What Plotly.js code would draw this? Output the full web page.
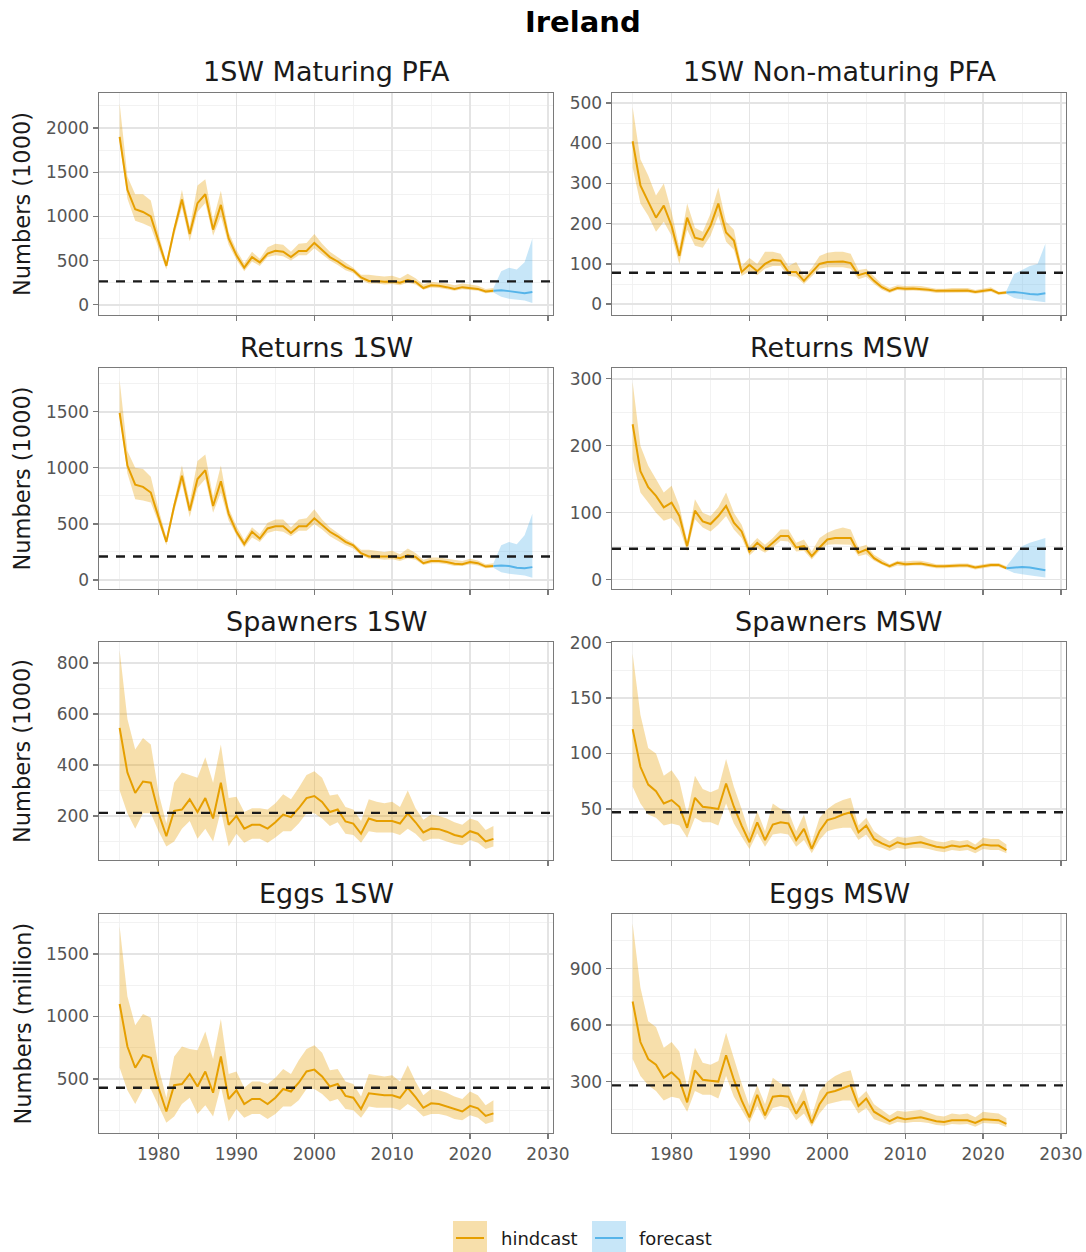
<!DOCTYPE html>
<html>
<head>
<meta charset="utf-8">
<script src="https://cdn.plot.ly/plotly-3.0.1.min.js"></script>
<style>html,body{margin:0;padding:0;background:#fff;}#chart{width:1086px;height:1252px;}</style>
</head>
<body>
<div id="chart"></div>
<script>
// ---------- DATA ----------
const years = [1975,1976,1977,1978,1979,1980,1981,1982,1983,1984,
  1985,1986,1987,1988,1989,1990,1991,1992,1993,1994,
  1995,1996,1997,1998,1999,2000,2001,2002,2003,2004,
  2005,2006,2007,2008,2009,2010,2011,2012,2013,2014,
  2015,2016,2017,2018,2019,2020,2021,2022,2023];
const forecastYears = [2023,2024,2025,2026,2027,2028];

const panelTitles = ["1SW Maturing PFA","1SW Non-maturing PFA","Returns 1SW","Returns MSW",
  "Spawners 1SW","Spawners MSW","Eggs 1SW","Eggs MSW"];
const yTitles = ["Numbers (1000)","Numbers (1000)","Numbers (1000)","Numbers (million)"];
const legendLabels = ["hindcast","forecast"];
const refLevels = [265, 78, 210, 46, 212, 47, 430, 280];

// 1SW Maturing PFA
const matPfaMed = [1900,1300,1080,1050,1000,720,440,850,1190,800,
  1150,1250,850,1130,750,560,420,540,480,580,
  610,600,540,610,610,700,620,540,490,430,
  390,310,270,270,260,265,250,280,260,190,
  220,215,200,180,200,190,180,150,160];
const matPfaLo = [1850,1200,950,920,880,650,400,780,1100,720,
  1050,1150,780,1000,680,510,380,490,440,540,
  560,550,500,560,560,640,570,500,450,390,
  360,280,240,240,230,235,220,250,230,170,
  195,190,175,160,175,170,160,130,140];
const matPfaHi = [2280,1450,1250,1250,1180,800,480,900,1300,880,
  1350,1420,960,1290,820,620,470,600,520,650,
  690,680,600,690,700,800,690,600,540,470,
  420,340,340,330,320,330,300,350,300,230,
  260,250,240,220,240,230,215,180,190];
const matPfaFcMed = [160,165,155,140,130,145];
const matPfaFcLo = [140,90,70,60,50,20];
const matPfaFcHi = [190,380,420,400,480,750];

// 1SW Non-maturing PFA
const nmPfaMed = [405,295,255,215,245,195,120,215,165,160,
  195,250,178,158,80,98,82,100,110,108,
  80,80,58,78,100,105,106,106,102,72,
  78,58,42,33,40,38,39,38,36,33,
  33,34,34,34,30,33,36,27,29];
const nmPfaLo = [340,250,220,180,205,170,100,185,145,140,
  170,220,155,135,70,82,72,88,95,95,
  70,68,50,68,88,92,92,92,88,62,
  68,50,36,28,35,33,34,33,31,28,
  28,29,29,29,26,28,31,23,25];
const nmPfaHi = [490,360,320,270,300,230,140,250,190,180,
  225,290,205,185,95,115,100,130,130,125,
  95,105,70,90,120,128,130,130,125,85,
  88,68,50,40,47,45,46,45,42,38,
  38,40,40,40,35,38,42,31,33];
const nmPfaFcMed = [29,30,28,25,24,27];
const nmPfaFcLo = [25,15,12,10,7,5];
const nmPfaFcHi = [33,75,85,95,100,150];

// Returns 1SW
const ret1Med = [1490,1020,850,830,780,560,340,660,930,620,
  900,980,660,880,590,430,320,430,370,460,
  480,480,420,480,480,550,490,430,390,340,
  310,240,210,210,205,210,195,220,205,150,
  170,170,160,145,140,160,150,120,125];
const ret1Lo = [1450,950,720,710,690,510,310,610,860,560,
  820,900,600,780,530,400,290,380,340,420,
  440,430,390,440,440,500,450,390,350,310,
  280,220,190,190,180,185,170,195,180,135,
  150,150,140,125,125,140,130,105,110];
const ret1Hi = [1780,1150,1000,990,920,630,380,710,1020,690,
  1060,1120,740,1020,640,480,360,470,410,510,
  540,540,470,540,550,630,540,470,420,370,
  330,270,270,260,250,260,230,280,240,180,
  200,200,190,175,170,190,175,140,150];
const ret1FcMed = [125,130,125,110,105,115];
const ret1FcLo = [110,70,55,50,40,20];
const ret1FcHi = [150,310,340,320,400,590];

// Returns MSW
const retMMed = [232,162,138,125,108,115,95,50,103,87,
  83,95,110,85,72,42,55,45,55,65,
  65,48,50,35,48,60,62,62,62,40,
  45,32,25,20,25,23,24,24,22,20,
  20,21,21,21,18,20,22,22,17];
const retMLo = [180,130,115,100,88,92,78,42,90,78,
  72,82,95,75,62,36,47,40,48,58,
  57,42,43,30,43,52,53,53,52,35,
  38,28,22,17,21,20,21,21,19,17,
  17,18,18,18,15,17,19,19,15];
const retMHi = [295,200,170,150,130,140,110,58,120,100,
  95,108,130,100,82,50,62,52,62,75,
  75,55,60,42,62,70,75,78,75,48,
  52,37,30,23,28,27,28,28,26,23,
  23,24,24,24,21,23,25,25,20];
const retMFcMed = [17,18,19,18,16,14];
const retMFcLo = [15,10,8,6,5,3];
const retMFcHi = [20,35,50,55,58,62];

// Spawners 1SW
const spw1Med = [545,370,290,335,330,210,120,220,225,265,
  215,270,190,330,165,200,150,165,165,150,
  175,205,195,230,270,278,255,215,225,178,
  170,130,190,180,180,180,170,210,175,135,
  150,148,138,125,118,140,130,100,110];
const spw1Lo = [300,210,150,210,210,140,80,100,150,180,
  110,150,100,220,80,130,95,110,110,95,
  115,140,140,170,210,210,190,160,175,130,
  125,95,140,135,135,135,125,150,130,100,
  110,110,100,90,85,105,95,70,80];
const spw1Hi = [850,580,460,505,480,290,170,330,370,360,
  350,430,330,480,270,275,215,230,230,225,
  250,285,265,310,360,375,350,280,285,235,
  225,180,265,255,250,255,235,300,230,185,
  205,200,190,175,165,190,180,145,160];

// Spawners MSW
const spwMMed = [122,88,72,66,55,58,52,33,60,52,
  51,50,73,52,35,20,38,22,36,38,
  37,22,32,14,30,40,42,45,47,29,
  35,23,19,16,20,18,19,20,18,16,
  15,17,16,17,14,18,17,17,13];
const spwMLo = [70,55,45,42,35,37,35,24,42,38,
  38,35,55,37,25,14,28,16,27,28,
  27,16,22,10,22,30,32,33,33,22,
  27,17,15,12,15,14,15,15,14,12,
  11,13,12,13,10,14,13,13,10];
const spwMHi = [190,135,105,100,80,85,75,45,80,68,
  65,68,95,70,50,28,48,30,55,50,
  48,30,45,20,42,50,55,58,60,35,
  42,30,25,21,25,24,25,26,23,21,
  20,22,21,22,18,24,23,23,18];

// Eggs 1SW
const egg1Med = [1100,760,590,690,670,430,240,450,460,540,
  440,560,390,680,340,410,300,340,340,300,
  350,420,400,470,560,575,520,440,460,365,
  350,260,385,375,370,370,350,430,355,270,
  305,300,280,255,240,285,265,205,225];
const egg1Lo = [590,410,300,420,420,280,150,200,300,350,
  220,290,200,440,160,260,190,220,220,180,
  220,280,280,330,420,420,380,320,340,260,
  250,190,280,270,270,270,250,300,260,200,
  220,220,205,180,170,210,190,140,160];
const egg1Hi = [1720,1160,930,1020,990,590,350,680,760,740,
  730,880,660,980,540,560,430,480,480,460,
  510,580,540,650,740,770,710,570,580,480,
  460,360,540,530,520,530,480,610,480,370,
  420,410,390,360,340,400,370,290,330];

// Eggs MSW
const eggMMed = [725,510,420,390,320,350,310,190,360,310,
  305,300,440,310,200,110,230,120,220,225,
  220,130,195,80,180,240,250,265,280,170,
  210,140,115,90,110,100,105,110,100,90,
  85,95,95,95,80,100,98,95,75];
const eggMLo = [420,330,280,250,200,220,210,140,250,230,
  230,210,330,220,150,80,170,95,160,170,
  160,95,130,60,130,180,190,200,200,130,
  160,100,85,70,85,80,85,85,80,70,
  65,75,72,75,60,80,78,75,58];
const eggMHi = [1140,800,620,590,480,510,460,270,480,400,
  390,410,560,420,290,170,280,180,320,290,
  280,180,270,120,250,300,330,350,360,210,
  250,180,150,120,145,140,145,150,135,120,
  115,130,125,130,110,140,135,130,105];

// ---------- PANELS ----------
const panels = [
  {med:matPfaMed, lo:matPfaLo, hi:matPfaHi, fmed:matPfaFcMed, flo:matPfaFcLo, fhi:matPfaFcHi, yr:[-115,2395], dt:500},
  {med:nmPfaMed, lo:nmPfaLo, hi:nmPfaHi, fmed:nmPfaFcMed, flo:nmPfaFcLo, fhi:nmPfaFcHi, yr:[-27,525], dt:100},
  {med:ret1Med, lo:ret1Lo, hi:ret1Hi, fmed:ret1FcMed, flo:ret1FcLo, fhi:ret1FcHi, yr:[-80,1890], dt:500},
  {med:retMMed, lo:retMLo, hi:retMHi, fmed:retMFcMed, flo:retMFcLo, fhi:retMFcHi, yr:[-14,316], dt:100},
  {med:spw1Med, lo:spw1Lo, hi:spw1Hi, yr:[27,882], dt:200},
  {med:spwMMed, lo:spwMLo, hi:spwMHi, yr:[4,200.5], dt:50},
  {med:egg1Med, lo:egg1Lo, hi:egg1Hi, yr:[68,1820], dt:500},
  {med:eggMMed, lo:eggMLo, hi:eggMHi, yr:[27,1190], dt:300}
];

const W = 1086, H = 1252;
const colX = [[99,553],[612,1066]];
const rowY = [[93,315],[368,589],[642,860],[914,1133]];
const titleY = [72,347,621,893];
const FONT = "DejaVu Sans, Verdana, sans-serif";
const hindCol = "#E69F00", foreCol = "#56B4E9";
const hindFill = "rgba(230,159,0,0.33)", foreFill = "rgba(86,180,233,0.33)";

const traces = [];
const layout = {
  width: W, height: H, margin: {l:0, r:0, t:0, b:0},
  paper_bgcolor: "#ffffff", plot_bgcolor: "#ffffff",
  showlegend: false, font: {family: FONT},
  shapes: [], annotations: []
};

panels.forEach((p, i) => {
  const n = i + 1;
  const row = Math.floor(i / 2), col = i % 2;
  const xa = "x" + (n === 1 ? "" : n), ya = "y" + (n === 1 ? "" : n);
  const xk = "xaxis" + (n === 1 ? "" : n), yk = "yaxis" + (n === 1 ? "" : n);
  const [px0, px1] = colX[col], [py0, py1] = rowY[row];

  layout[xk] = {
    domain: [px0 / W, px1 / W], anchor: ya, range: [1972.35, 2030.65],
    tick0: 1980, dtick: 10, showgrid: true, gridcolor: "#e4e4e4", gridwidth: 1.6,
    minor: {tick0: 1975, dtick: 5, showgrid: true, gridcolor: "#f1f1f1", gridwidth: 0.9, ticks: ""},
    zeroline: false, showline: true, mirror: true, linecolor: "#7a7a7a", linewidth: 1.4,
    ticks: "outside", ticklen: 5, tickcolor: "#7a7a7a", tickwidth: 1.3,
    showticklabels: row === 3, tickfont: {family: FONT, size: 17, color: "#555555"},
    fixedrange: true
  };
  const d = p.dt;
  layout[yk] = {
    domain: [1 - py1 / H, 1 - py0 / H], anchor: xa, range: p.yr,
    tick0: 0, dtick: d, showgrid: true, gridcolor: "#e4e4e4", gridwidth: 1.6,
    minor: {tick0: 0, dtick: d / 2, showgrid: true, gridcolor: "#f1f1f1", gridwidth: 0.9, ticks: ""},
    zeroline: false, showline: true, mirror: true, linecolor: "#7a7a7a", linewidth: 1.4,
    ticks: "outside", ticklen: 5, tickcolor: "#7a7a7a", tickwidth: 1.3,
    tickfont: {family: FONT, size: 17, color: "#555555"}, fixedrange: true
  };

  // hindcast ribbon
  traces.push({x: years, y: p.lo, xaxis: xa, yaxis: ya, type: "scatter", mode: "lines",
    line: {width: 0, color: hindFill}, hoverinfo: "skip"});
  traces.push({x: years, y: p.hi, xaxis: xa, yaxis: ya, type: "scatter", mode: "lines",
    line: {width: 0, color: hindFill}, fill: "tonexty", fillcolor: hindFill, hoverinfo: "skip"});
  if (p.fmed) {
    traces.push({x: forecastYears, y: p.flo, xaxis: xa, yaxis: ya, type: "scatter", mode: "lines",
      line: {width: 0, color: foreFill}, hoverinfo: "skip"});
    traces.push({x: forecastYears, y: p.fhi, xaxis: xa, yaxis: ya, type: "scatter", mode: "lines",
      line: {width: 0, color: foreFill}, fill: "tonexty", fillcolor: foreFill, hoverinfo: "skip"});
  }
  traces.push({x: years, y: p.med, xaxis: xa, yaxis: ya, type: "scatter", mode: "lines",
    name: legendLabels[0], line: {width: 2, color: hindCol}});
  if (p.fmed) {
    traces.push({x: forecastYears, y: p.fmed, xaxis: xa, yaxis: ya, type: "scatter", mode: "lines",
      name: legendLabels[1], line: {width: 2, color: foreCol}});
  }

  layout.shapes.push({type: "line", xref: xa + " domain", yref: ya, x0: 0, x1: 1,
    y0: refLevels[i], y1: refLevels[i], line: {color: "#1a1a1a", width: 2.4, dash: "9px,8px"}});

  layout.annotations.push({text: panelTitles[i], xref: "paper", yref: "paper",
    x: ((px0 + px1) / 2) / W, y: 1 - titleY[row] / H, xanchor: "center", yanchor: "middle",
    showarrow: false, font: {family: FONT, size: 27, color: "#1a1a1a"}});
  if (col === 0) {
    layout.annotations.push({text: yTitles[row], xref: "paper", yref: "paper",
      x: 22 / W, y: 1 - ((py0 + py1) / 2) / H, xanchor: "center", yanchor: "middle",
      textangle: -90, showarrow: false, font: {family: FONT, size: 22.5, color: "#1a1a1a"}});
  }
});

// main title
layout.annotations.push({text: "<b>Ireland</b>", xref: "paper", yref: "paper",
  x: 583 / W, y: 1 - 22 / H, xanchor: "center", yanchor: "middle", showarrow: false,
  font: {family: FONT, size: 29, color: "#000"}});

// legend keys (drawn as a ggplot-style key)
const keys = [{x0: 453, col: hindCol, fill: hindFill, tx: 499},
              {x0: 592, col: foreCol, fill: foreFill, tx: 637}];
keys.forEach((k, j) => {
  layout.shapes.push({type: "rect", xref: "paper", yref: "paper",
    x0: k.x0 / W, x1: (k.x0 + 34) / W, y0: 1 - 1252 / H, y1: 1 - 1221 / H,
    fillcolor: k.fill, line: {width: 0}});
  layout.shapes.push({type: "line", xref: "paper", yref: "paper",
    x0: (k.x0 + 3) / W, x1: (k.x0 + 31) / W, y0: 1 - 1238 / H, y1: 1 - 1238 / H,
    line: {color: k.col, width: 2}});
  layout.annotations.push({text: legendLabels[j], xref: "paper", yref: "paper",
    x: k.tx / W, y: 1 - 1238 / H, xanchor: "left", yanchor: "middle", showarrow: false,
    font: {family: FONT, size: 18, color: "#1a1a1a"}});
});

Plotly.newPlot("chart", traces, layout, {displayModeBar: false, staticPlot: true});
</script>
</body>
</html>
